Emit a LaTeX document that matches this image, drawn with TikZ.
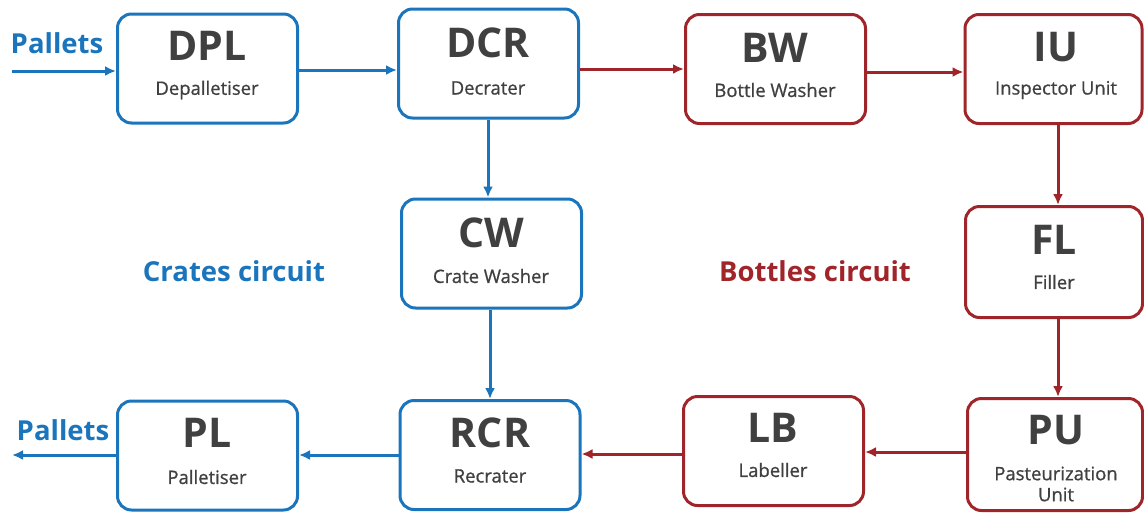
\documentclass[tikz,border=0pt]{standalone}
\usepackage{fontspec}
\setmainfont{Open Sans}
\newfontfamily\subfont[FakeBold=0.8]{Open Sans}
\usetikzlibrary{arrows.meta}
\definecolor{cblue}{HTML}{1B75BC}
\definecolor{cred}{HTML}{A0252A}
\definecolor{ctext}{HTML}{404040}
\tikzset{
  unit/.style={draw=#1, line width=3pt, rounded corners=14pt, fill=white, minimum width=180pt, minimum height=109pt, inner sep=0pt},
  ttl/.style={font=\fontsize{41}{41}\selectfont\bfseries, text=ctext},
  sub/.style={font=\subfont\fontsize{18.5}{21}\selectfont, text=ctext, align=center},
  flow/.style={draw=#1, line width=3pt, -{Latex[length=11pt,width=10pt]}},
  lbl/.style={font=\fontsize{27.5}{28}\selectfont\bfseries, text=#1}
}
\begin{document}
\begin{tikzpicture}[x=1pt,y=-1pt]
\useasboundingbox (0,0) rectangle (1144,512);
% boxes
\node[unit=cblue] (DPL) at (207.5,68.5) {};
\node[unit=cblue] (DCR) at (488.5,63.5) {};
\node[unit=cred]  (BW)  at (775.5,69) {};
\node[unit=cred,minimum width=177pt]  (IU)  at (1053.5,69) {};
\node[unit=cblue] (CW)  at (491.5,253.5) {};
\node[unit=cred,minimum width=177pt,minimum height=111pt]  (FL)  at (1054,262) {};
\node[unit=cblue] (PL)  at (207.5,455.5) {};
\node[unit=cblue] (RCR) at (490,455) {};
\node[unit=cred]  (LB)  at (773.5,451) {};
\node[unit=cred,minimum width=175pt,minimum height=112pt]  (PU)  at (1055,454.5) {};
% texts
\node[ttl] (tDPL) at (207,46) {DPL};
\node[sub] (sDPL) at (207,90) {Depalletiser};
\node[ttl] (tDCR) at (488,43) {DCR};
\node[sub] (sDCR) at (488,88) {Decrater};
\node[ttl] (tBW) at (775,48) {BW};
\node[sub] (sBW) at (775,90) {Bottle Washer};
\node[ttl] (tIU) at (1056,47) {IU};
\node[sub] (sIU) at (1056,90) {Inspector Unit};
\node[ttl] (tCW) at (491,233) {CW};
\node[sub] (sCW) at (491,276) {Crate Washer};
\node[ttl] (tFL) at (1054,240) {FL};
\node[sub] (sFL) at (1054,282) {Filler};
\node[ttl] (tPL) at (207,433) {PL};
\node[sub] (sPL) at (207,477) {Palletiser};
\node[ttl] (tRCR) at (490,433) {RCR};
\node[sub] (sRCR) at (490,476) {Recrater};
\node[ttl] (tLB) at (773,428) {LB};
\node[sub] (sLB) at (773,470) {Labeller};
\node[ttl] (tPU) at (1056,430) {PU};
\node[sub] (sPU) at (1056,484) {Pasteurization\\Unit};
% labels
\node[lbl=cblue] (pin) at (57,43) {Pallets};
\node[lbl=cblue] (pout) at (63,430) {Pallets};
\node[lbl=cblue] (cc) at (234,271) {Crates circuit};
\node[lbl=cred] (bc) at (815,271) {Bottles circuit};
% connectors
\coordinate (inS) at (12,71);
\coordinate (outE) at (12,455);
\draw[flow=cblue] (inS) -- (inS -| DPL.west);
\draw[flow=cblue] (DPL.east |- 0,70) -- (DCR.west |- 0,70);
\draw[flow=cred] (DCR.east |- 0,69) -- (BW.west |- 0,69);
\draw[flow=cred] (BW.east |- 0,72) -- (IU.west |- 0,72);
\draw[flow=cred] (IU.south -| 1058,0) -- (FL.north -| 1058,0);
\draw[flow=cred] (FL.south -| 1058,0) -- (PU.north -| 1058,0);
\draw[flow=cred] (PU.west |- 0,452) -- (LB.east |- 0,452);
\draw[flow=cred] (LB.west |- 0,454) -- (RCR.east |- 0,454);
\draw[flow=cblue] (RCR.west |- 0,455) -- (PL.east |- 0,455);
\draw[flow=cblue] (PL.west |- 0,455) -- (outE);
\draw[flow=cblue] (DCR.south -| 488,0) -- (CW.north -| 488,0);
\draw[flow=cblue] (CW.south -| 490,0) -- (RCR.north -| 490,0);
\end{tikzpicture}
\end{document}
